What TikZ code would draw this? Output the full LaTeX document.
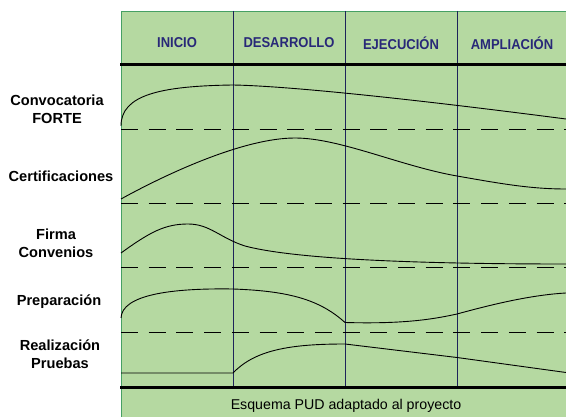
\documentclass[tikz,border=0pt]{standalone}
\usepackage{fontspec}
\setmainfont{Liberation Sans}
\definecolor{bg}{RGB}{181,217,161}
\definecolor{framegreen}{RGB}{70,160,100}
\definecolor{navy}{RGB}{40,40,120}
\definecolor{colline}{RGB}{30,35,90}
\begin{document}
\begin{tikzpicture}[x=1pt,y=-1pt,
  hdr/.style={font=\fontsize{13}{13}\selectfont\bfseries, text=navy, inner sep=0pt, yscale=1.1},
  lbl/.style={font=\fontsize{14.6}{18}\selectfont\bfseries, align=center, inner sep=0pt},
  foot/.style={font=\fontsize{14.2}{14}\selectfont, inner sep=0pt},
  colsep/.style={colline, line width=0.9pt},
  thickrule/.style={black, line width=3pt},
  dashrule/.style={black, line width=1pt, dash pattern=on 17pt off 10.7pt},
  curve/.style={black, line width=0.9pt}]
\useasboundingbox (0,0) rectangle (566,417);
\fill[bg] (121,11) rectangle (566,417);
\draw[framegreen, line width=0.9pt] (566,11) -- (121,11) -- (121,417);
% column separators
\draw[colsep] (233,11) -- (233,388);
\draw[colsep] (345,11) -- (345,388);
\draw[colsep] (457,11) -- (457,388);
% header
\node[hdr] (h1) at (177,43) {INICIO};
\node[hdr] (h2) at (289,43) {DESARROLLO};
\node[hdr] (h3) at (401,43) {EJECUCIÓN};
\node[hdr] (h4) at (512,43) {AMPLIACIÓN};
% rules
\draw[thickrule] (120,65) -- (566,65);
\draw[thickrule] (120,388) -- (566,388);
\draw[dashrule] (121,130) -- (566,130);
\draw[dashrule] (121,204) -- (566,204);
\draw[dashrule] (121,268) -- (566,268);
\draw[dashrule] (121,332.5) -- (566,332.5);
% row labels
\node[lbl] (l1) at (57,109) {Convocatoria\\FORTE};
\node[lbl] (l2) at (61,176) {Certificaciones};
\node[lbl] (l3) at (56,243) {Firma\\Convenios};
\node[lbl] (l4) at (59,302) {Preparación};
\node[lbl] (l5) at (60,354) {Realización\\Pruebas};
% curves
\draw[curve] (121,126) .. controls (121,95) and (160,86) .. (233,85)
  .. controls (290,86) and (420,100) .. (566,119);
\draw[curve] (121,199) .. controls (170,172) and (245,138) .. (295,138)
  .. controls (340,138) and (400,166) .. (457,176)
  .. controls (500,183.5) and (530,189) .. (566,189);
\draw[curve] (121,253) .. controls (150,232) and (165,224) .. (188,224)
  .. controls (210,224) and (220,238) .. (245,246)
  .. controls (290,258) and (400,264) .. (566,264);
\draw[curve] (121,318) .. controls (122,295) and (170,288) .. (233,289)
  .. controls (290,291) and (320,300) .. (345,322.5)
  .. controls (400,324) and (430,320) .. (457,314)
  .. controls (490,305) and (530,295) .. (566,293);
\draw[curve] (121,373) -- (233,373) .. controls (255,350) and (290,344) .. (345,344)
  -- (457,357.5) -- (566,372.5);
% footer
\node[foot] (ft) at (346,406) {Esquema PUD adaptado al proyecto};
\end{tikzpicture}
\end{document}
